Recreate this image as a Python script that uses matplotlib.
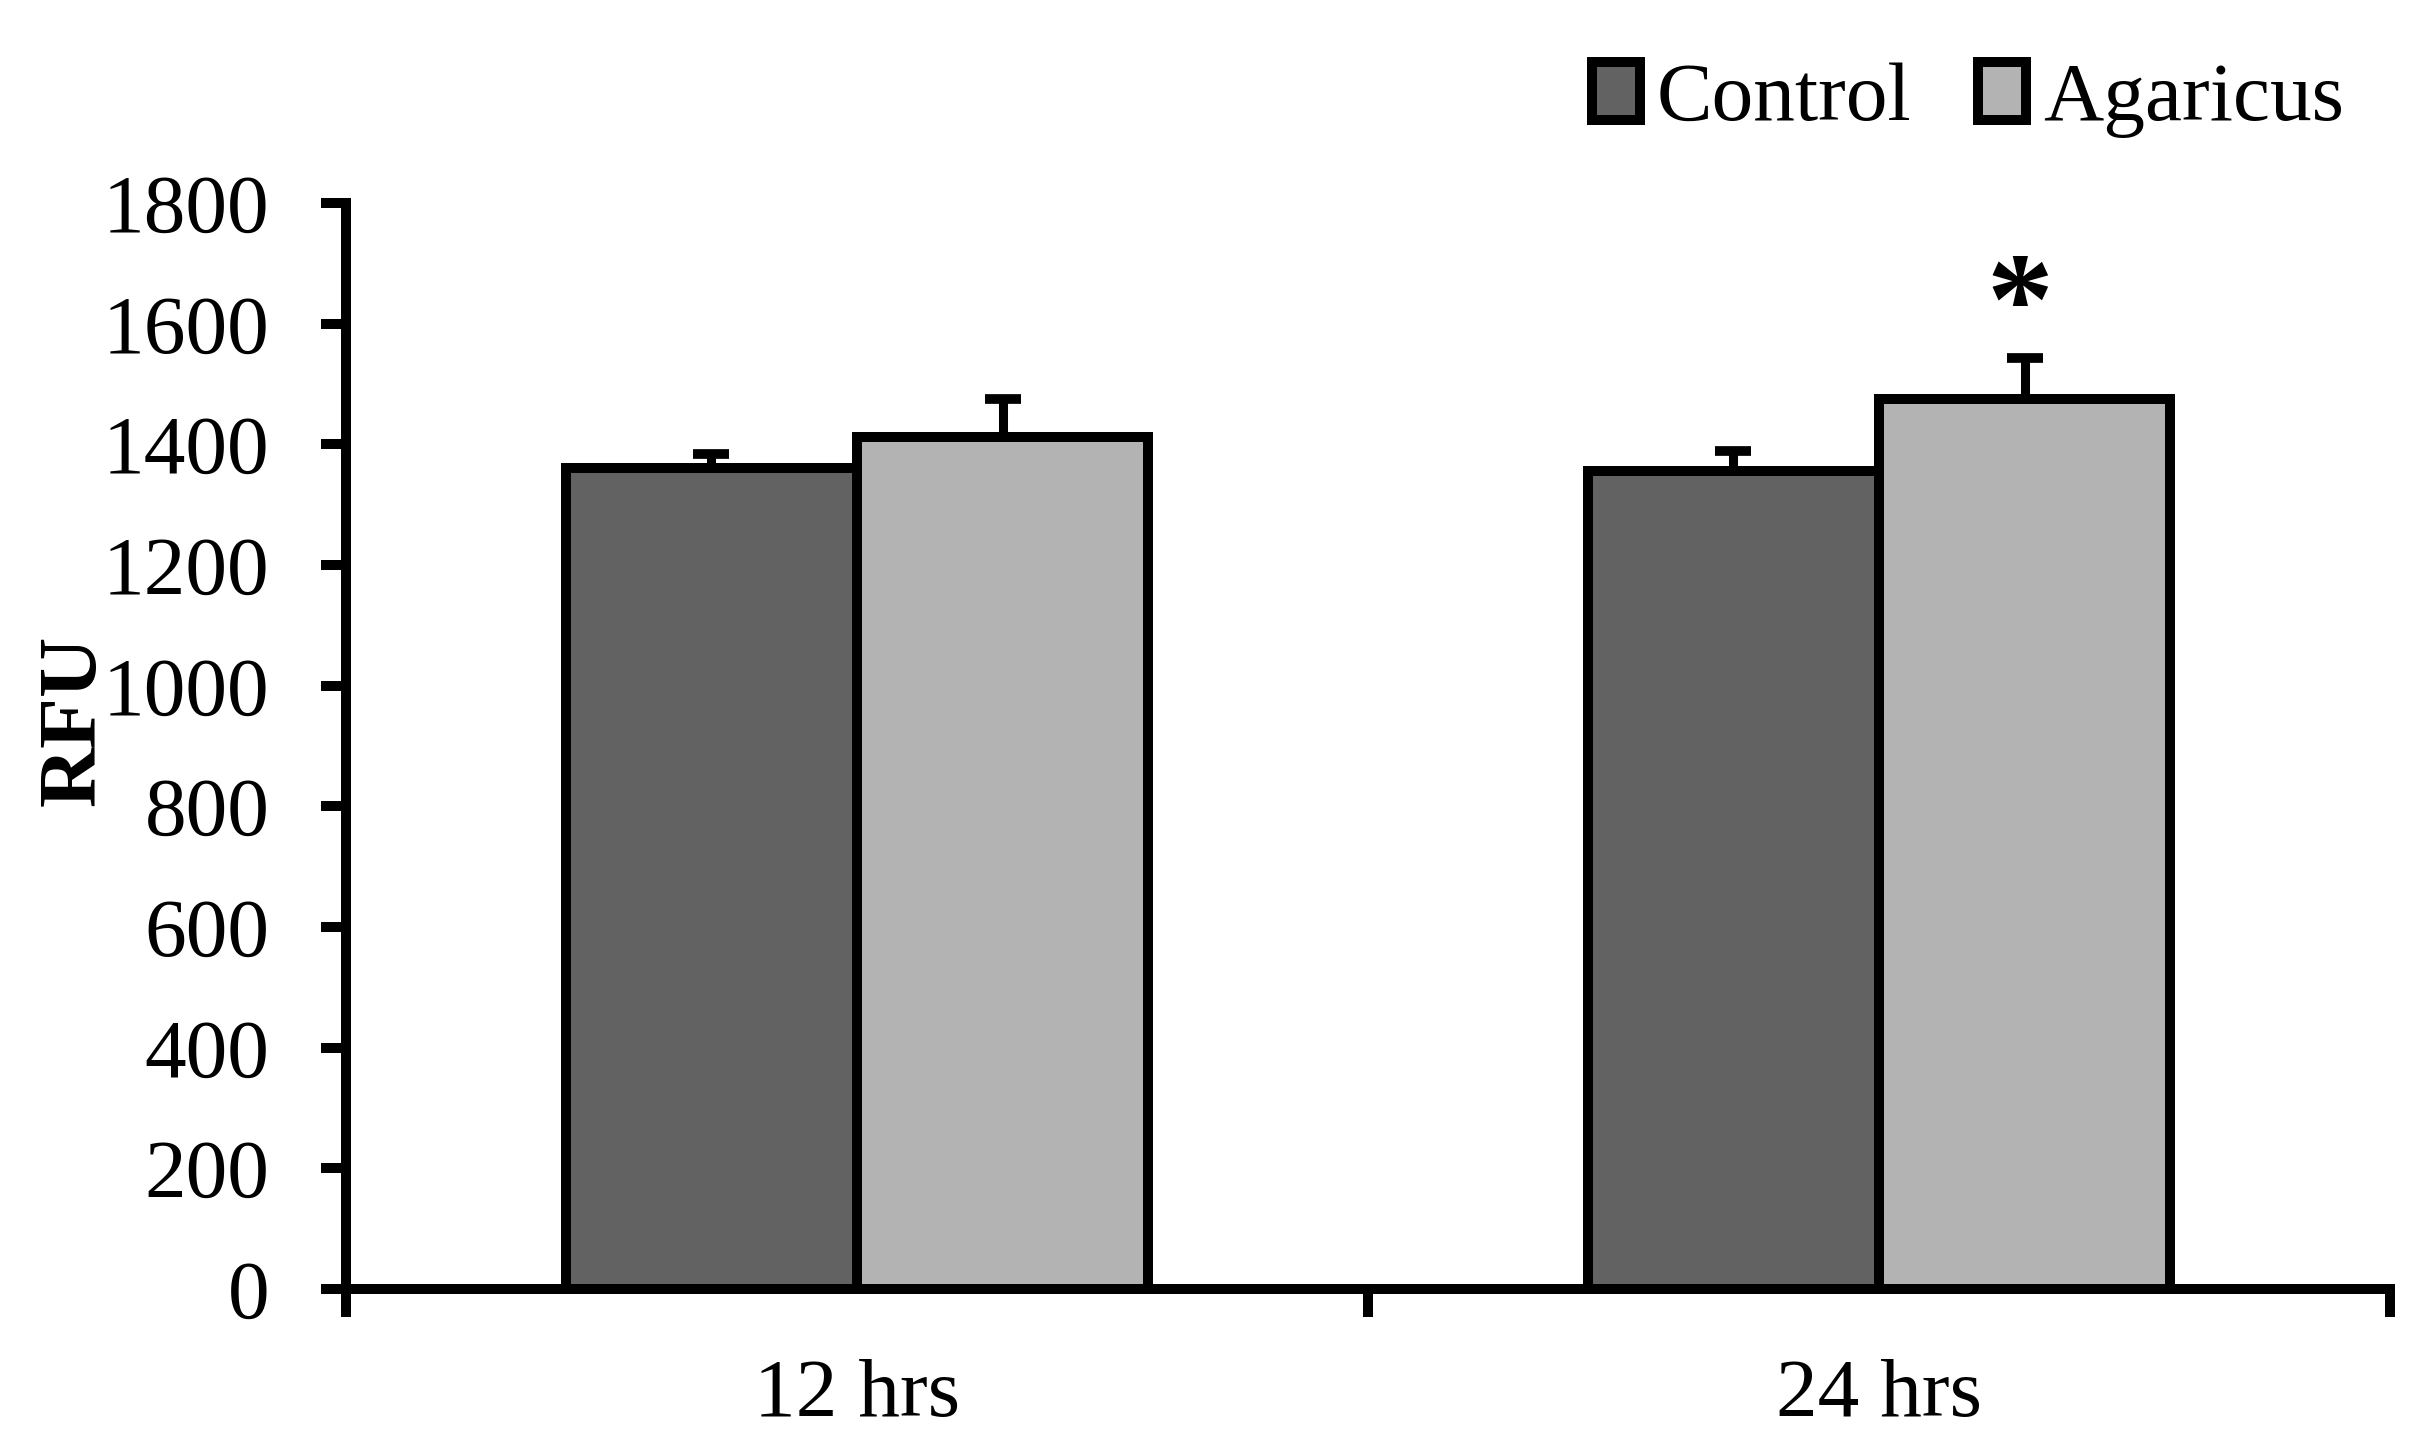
import matplotlib.pyplot as plt
import numpy as np

plt.rcParams['font.family'] = ['Liberation Serif', 'DejaVu Serif']

# data
timepoints = ['12 hrs', '24 hrs']
control = [1360, 1355]
control_err = [24, 34]
agaricus = [1412, 1475]
agaricus_err = [63, 68]
yticks = [0, 200, 400, 600, 800, 1000, 1200, 1400, 1600, 1800]

dark = '#626262'
light = '#b3b3b3'
lw = 7.2

fig = plt.figure(figsize=(24.24, 14.53), dpi=100)
ax = fig.add_axes([0.1427, 0.1129, 0.9860 - 0.1427, 0.8603 - 0.1129])

x = np.arange(len(timepoints))
w = 0.285

ax.bar(x - w / 2, control, w, color=dark, edgecolor='black', linewidth=lw, label='Control')
ax.bar(x + w / 2, agaricus, w, color=light, edgecolor='black', linewidth=lw, label='Agaricus')

ax.errorbar(x - w / 2, control, yerr=[np.zeros(len(x)), control_err], fmt='none',
            ecolor='black', elinewidth=6.5, capsize=13, capthick=7)
ax.errorbar(x + w / 2, agaricus, yerr=[np.zeros(len(x)), agaricus_err], fmt='none',
            ecolor='black', elinewidth=6.5, capsize=13, capthick=7)

# significance mark on 24 hrs Agaricus
ax.text(x[1] + w / 2 - 0.005, 1566, '*', ha='center', va='baseline',
        fontsize=96, fontweight='bold')

ax.set_xlim(-0.5, 1.5)
ax.set_ylim(0, 1800)
ax.set_yticks(yticks)
ax.set_xticks(x)
ax.set_xticklabels(timepoints)
ax.set_xticks([-0.5, 0.5, 1.5], minor=True)

for s in ['top', 'right']:
    ax.spines[s].set_visible(False)
for s in ['left', 'bottom']:
    ax.spines[s].set_linewidth(7.2)

ax.tick_params(axis='y', which='major', length=18, width=7.2, labelsize=60, pad=37)
ax.tick_params(axis='x', which='major', length=0, labelsize=60, pad=50)
ax.tick_params(axis='x', which='minor', length=20, width=7.2)

ax.set_ylabel('RFU', fontsize=60, fontweight='bold')
ax.yaxis.set_label_coords(-0.114, 0.524)

fig.legend(loc='upper right', bbox_to_anchor=(0.967, 0.957), ncol=2, frameon=False,
           fontsize=60, handlelength=0.58, handleheight=0.68, handletextpad=0.2,
           columnspacing=0.8, borderpad=0, borderaxespad=0)

fig.savefig('out.png', dpi=100)
